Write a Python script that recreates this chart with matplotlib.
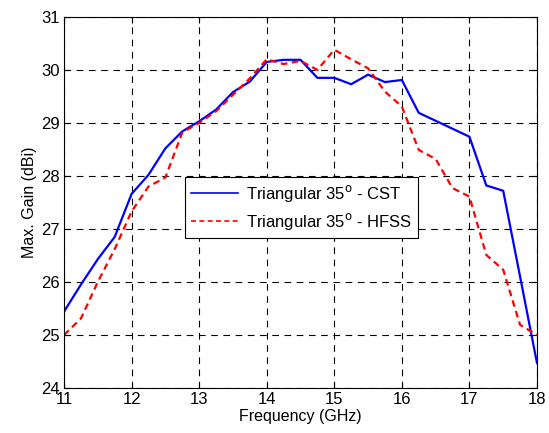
import numpy as np
import matplotlib
matplotlib.use("Agg")
import matplotlib.pyplot as plt

plt.rcParams['font.family'] = ['Liberation Sans', 'DejaVu Sans']

# frequence (GHz), pas de 0.25
freq = np.arange(11, 18.001, 0.25)

# gain max CST (dBi)
gain_cst = [25.44, 25.95, 26.43, 26.85, 27.66, 28.02, 28.52, 28.84,
            29.03, 29.25, 29.58, 29.78, 30.15, 30.19, 30.19, 29.85,
            29.85, 29.73, 29.91, 29.77, 29.81, 29.19, 29.04, 28.89,
            28.74, 27.82, 27.72, 26.10, 24.47]

# gain max HFSS (dBi)
gain_hfss = [25.0, 25.31, 26.0, 26.62, 27.33, 27.8, 27.97, 28.82,
             29.0, 29.22, 29.53, 29.84, 30.2, 30.11, 30.17, 30.0,
             30.38, 30.2, 30.03, 29.59, 29.31, 28.49, 28.32, 27.77,
             27.61, 26.51, 26.23, 25.19, 25.0]

fig = plt.figure(figsize=(5.49, 4.33), dpi=100)
ax = fig.add_axes([0.1166, 0.104, 0.8615, 0.857])

ax.plot(freq, gain_cst, color='#0000ff', lw=1.6, label='Triangular 35$^{\\mathrm{o}}$ - CST')
ax.plot(freq, gain_hfss, color='#ff0000', lw=1.6, ls=(0, (3, 2)),
        label='Triangular 35$^{\\mathrm{o}}$ - HFSS')

ax.set_xlim(11, 18)
ax.set_ylim(24, 31)
ax.set_xticks(range(11, 19))
ax.set_yticks(range(24, 32))
ax.grid(True, color='black', ls=(0, (6, 5)), lw=0.8)
ax.tick_params(direction='in', labelsize=12, length=4, top=True, right=True, pad=3)
for s in ax.spines.values():
    s.set_linewidth(0.8)

ax.set_xlabel('Frequency (GHz)', fontsize=11.5, labelpad=1)
ax.set_ylabel('Max. Gain (dBi)', fontsize=11.5, labelpad=3)

leg = ax.legend(loc='upper left', bbox_to_anchor=(0.256, 0.569),
                borderaxespad=0, fontsize=12, fancybox=False, framealpha=1,
                edgecolor='black', handlelength=2.8, borderpad=0.35,
                labelspacing=0.45, handletextpad=0.5)
leg.get_frame().set_linewidth(0.8)
for h in leg.get_lines():
    h.set_linewidth(1.2)

fig.savefig('out.png', dpi=100)
